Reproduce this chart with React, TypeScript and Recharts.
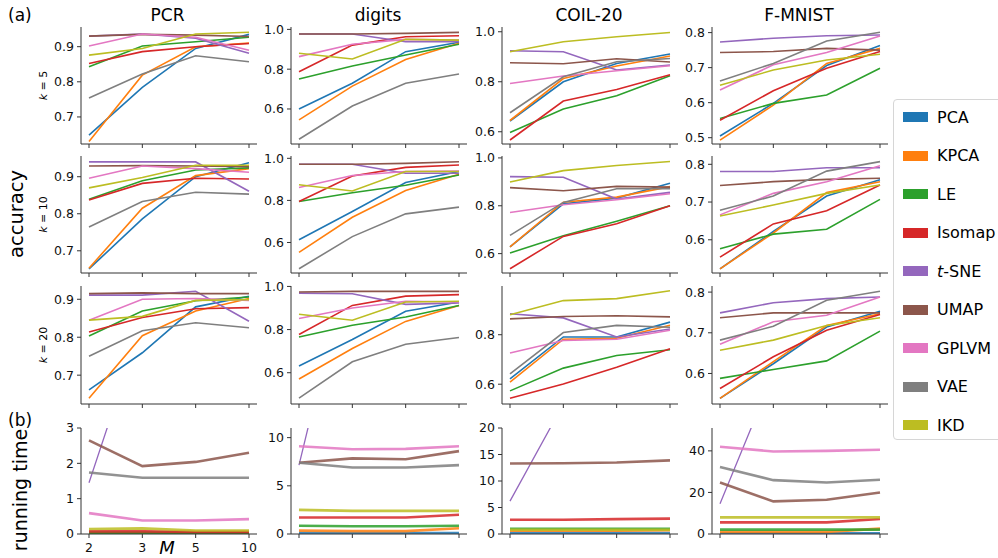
import React from 'react';
import { LineChart, Line, XAxis, YAxis } from 'recharts';

// ---------- categories / labels ----------
const M_LABELS = ['2', '3', '5', '10'];
const METHODS = ['PCA', 'KPCA', 'LE', 'Isomap', 't-SNE', 'UMAP', 'GPLVM', 'VAE', 'IKD'];
const DATASETS = ['PCR', 'digits', 'COIL-20', 'F-MNIST'];
const K_LABELS = ['5', '10', '20'];

// ---------- accuracy, k = 5 (rows: METHODS order, cols: M) ----------
const PCR_K5 = [
  [0.648, 0.784, 0.895, 0.935],
  [0.630, 0.819, 0.900, 0.910],
  [0.843, 0.902, 0.914, 0.927],
  [0.852, 0.886, 0.900, 0.909],
  [0.930, 0.936, 0.924, 0.881],
  [0.930, 0.935, 0.933, 0.929],
  [0.902, 0.936, 0.927, 0.890],
  [0.754, 0.822, 0.874, 0.857],
  [0.876, 0.895, 0.936, 0.941],
];
const DIGITS_K5 = [
  [0.600, 0.729, 0.888, 0.935],
  [0.545, 0.715, 0.849, 0.930],
  [0.751, 0.816, 0.871, 0.925],
  [0.787, 0.921, 0.963, 0.968],
  [0.977, 0.977, 0.938, 0.938],
  [0.977, 0.977, 0.980, 0.985],
  [0.863, 0.925, 0.950, 0.946],
  [0.448, 0.615, 0.729, 0.776],
  [0.880, 0.851, 0.950, 0.946],
];
const COIL_K5 = [
  [0.643, 0.800, 0.873, 0.911],
  [0.645, 0.813, 0.863, 0.903],
  [0.597, 0.691, 0.744, 0.824],
  [0.567, 0.723, 0.769, 0.828],
  [0.924, 0.920, 0.847, 0.867],
  [0.876, 0.872, 0.892, 0.879],
  [0.793, 0.823, 0.844, 0.864],
  [0.676, 0.820, 0.880, 0.893],
  [0.920, 0.960, 0.980, 0.997],
];
const FMNIST_K5 = [
  [0.505, 0.598, 0.706, 0.763],
  [0.493, 0.593, 0.712, 0.755],
  [0.555, 0.598, 0.622, 0.698],
  [0.550, 0.634, 0.698, 0.746],
  [0.773, 0.784, 0.791, 0.793],
  [0.743, 0.746, 0.755, 0.750],
  [0.636, 0.708, 0.743, 0.790],
  [0.662, 0.712, 0.776, 0.801],
  [0.650, 0.693, 0.722, 0.738],
];

// ---------- accuracy, k = 10 ----------
const PCR_K10 = [
  [0.651, 0.786, 0.900, 0.938],
  [0.653, 0.815, 0.903, 0.922],
  [0.839, 0.889, 0.918, 0.924],
  [0.837, 0.882, 0.896, 0.894],
  [0.940, 0.940, 0.940, 0.861],
  [0.929, 0.930, 0.929, 0.927],
  [0.896, 0.929, 0.922, 0.912],
  [0.764, 0.833, 0.858, 0.853],
  [0.870, 0.898, 0.931, 0.931],
];
const DIGITS_K10 = [
  [0.613, 0.747, 0.885, 0.937],
  [0.553, 0.720, 0.847, 0.924],
  [0.795, 0.836, 0.872, 0.921],
  [0.795, 0.916, 0.957, 0.968],
  [0.972, 0.972, 0.929, 0.929],
  [0.972, 0.972, 0.976, 0.984],
  [0.861, 0.918, 0.937, 0.940],
  [0.475, 0.628, 0.736, 0.768],
  [0.874, 0.845, 0.937, 0.937],
];
const COIL_K10 = [
  [0.628, 0.808, 0.832, 0.894],
  [0.628, 0.815, 0.836, 0.880],
  [0.603, 0.675, 0.735, 0.800],
  [0.537, 0.672, 0.725, 0.800],
  [0.922, 0.919, 0.828, 0.856],
  [0.876, 0.863, 0.881, 0.878],
  [0.772, 0.804, 0.825, 0.850],
  [0.676, 0.814, 0.871, 0.871],
  [0.899, 0.947, 0.968, 0.985],
];
const FMNIST_K10 = [
  [0.523, 0.622, 0.716, 0.759],
  [0.523, 0.618, 0.725, 0.754],
  [0.576, 0.615, 0.628, 0.707],
  [0.554, 0.642, 0.677, 0.745],
  [0.781, 0.781, 0.791, 0.791],
  [0.744, 0.754, 0.760, 0.763],
  [0.666, 0.723, 0.754, 0.796],
  [0.678, 0.716, 0.782, 0.807],
  [0.663, 0.692, 0.723, 0.745],
];

// ---------- accuracy, k = 20 ----------
const PCR_K20 = [
  [0.661, 0.759, 0.880, 0.908],
  [0.639, 0.804, 0.869, 0.902],
  [0.803, 0.869, 0.896, 0.906],
  [0.814, 0.852, 0.875, 0.878],
  [0.911, 0.911, 0.921, 0.842],
  [0.915, 0.917, 0.915, 0.915],
  [0.845, 0.900, 0.902, 0.897],
  [0.750, 0.817, 0.838, 0.825],
  [0.845, 0.855, 0.897, 0.899],
];
const DIGITS_K20 = [
  [0.631, 0.754, 0.885, 0.928],
  [0.571, 0.712, 0.838, 0.912],
  [0.766, 0.820, 0.858, 0.912],
  [0.777, 0.912, 0.955, 0.962],
  [0.969, 0.966, 0.917, 0.923],
  [0.974, 0.977, 0.977, 0.977],
  [0.851, 0.900, 0.931, 0.928],
  [0.482, 0.651, 0.732, 0.763],
  [0.871, 0.843, 0.928, 0.931],
];
const COIL_K20 = [
  [0.622, 0.791, 0.791, 0.851],
  [0.608, 0.782, 0.786, 0.838],
  [0.573, 0.665, 0.716, 0.739],
  [0.543, 0.601, 0.669, 0.743],
  [0.885, 0.868, 0.791, 0.823],
  [0.864, 0.874, 0.877, 0.872],
  [0.726, 0.777, 0.782, 0.818],
  [0.642, 0.809, 0.838, 0.830],
  [0.881, 0.938, 0.946, 0.978],
];
const FMNIST_K20 = [
  [0.539, 0.624, 0.714, 0.753],
  [0.539, 0.629, 0.718, 0.747],
  [0.588, 0.610, 0.631, 0.704],
  [0.563, 0.641, 0.706, 0.745],
  [0.749, 0.774, 0.784, 0.788],
  [0.737, 0.749, 0.749, 0.749],
  [0.672, 0.727, 0.743, 0.788],
  [0.682, 0.716, 0.780, 0.802],
  [0.657, 0.682, 0.718, 0.737],
];

// ---------- running time ----------
const TIME_PCR = [
  [0.01, 0.01, 0.01, 0.01],
  [0.02, 0.02, 0.03, 0.03],
  [0.04, 0.04, 0.04, 0.04],
  [0.075, 0.075, 0.06, 0.06],
  [1.45, 6.0, 9.5, 14.0],
  [2.65, 1.92, 2.04, 2.30],
  [0.59, 0.38, 0.38, 0.42],
  [1.74, 1.59, 1.59, 1.59],
  [0.14, 0.16, 0.10, 0.10],
];
const TIME_DIGITS = [
  [0.10, 0.10, 0.10, 0.10],
  [0.35, 0.30, 0.30, 0.60],
  [0.86, 0.80, 0.80, 0.86],
  [1.72, 1.72, 1.72, 2.00],
  [7.15, 30.0, 45.0, 60.0],
  [7.40, 7.85, 7.75, 8.60],
  [9.10, 8.80, 8.83, 9.10],
  [7.40, 6.90, 6.90, 7.15],
  [2.50, 2.40, 2.40, 2.40],
];
const TIME_COIL = [
  [0.2, 0.2, 0.2, 0.2],
  [0.6, 0.6, 0.6, 0.7],
  [1.0, 1.0, 1.0, 1.0],
  [2.7, 2.7, 2.8, 2.9],
  [6.2, 24.5, 38.0, 55.0],
  [13.3, 13.35, 13.5, 13.9],
  [46.0, 44.0, 44.0, 45.0],
  [32.0, 30.0, 30.0, 31.0],
  [0.8, 0.8, 0.8, 0.8],
];
const TIME_FMNIST = [
  [0.3, 0.3, 0.3, 0.3],
  [1.0, 1.0, 1.0, 2.6],
  [2.1, 2.1, 2.1, 2.1],
  [5.6, 5.6, 5.6, 7.2],
  [14.5, 77.0, 110.0, 150.0],
  [24.8, 15.7, 16.5, 20.0],
  [42.0, 39.7, 40.0, 40.5],
  [32.2, 25.9, 24.8, 26.1],
  [8.0, 8.0, 8.0, 8.0],
];

// ---------- axis settings per panel ----------
const Y_DOMAINS = [
  [[0.623, 0.956], [0.424, 1.012], [0.551, 1.019], [0.482, 0.816]],
  [[0.640, 0.956], [0.455, 1.011], [0.519, 1.008], [0.512, 0.822]],
  [[0.624, 0.935], [0.455, 1.002], [0.520, 0.997], [0.525, 0.815]],
  [[0, 3], [0, 11], [0, 20], [0, 51]],
];
const Y_TICKS = [
  [[0.7, 0.8, 0.9], [0.6, 0.8, 1.0], [0.6, 0.8, 1.0], [0.5, 0.6, 0.7, 0.8]],
  [[0.7, 0.8, 0.9], [0.6, 0.8, 1.0], [0.6, 0.8, 1.0], [0.6, 0.7, 0.8]],
  [[0.7, 0.8, 0.9], [0.6, 0.8, 1.0], [0.6, 0.8], [0.6, 0.7, 0.8]],
  [[0, 1, 2, 3], [0, 5, 10], [0, 5, 10, 15, 20], [0, 20, 40]],
];
const GRID = [
  [PCR_K5, DIGITS_K5, COIL_K5, FMNIST_K5],
  [PCR_K10, DIGITS_K10, COIL_K10, FMNIST_K10],
  [PCR_K20, DIGITS_K20, COIL_K20, FMNIST_K20],
  [TIME_PCR, TIME_DIGITS, TIME_COIL, TIME_FMNIST],
];

const COLORS = ['#1f77b4', '#ff7f0e', '#2ca02c', '#d62728', '#9467bd', '#8c564b', '#e377c2', '#7f7f7f', '#bcbd22'];

// ---------- layout ----------
const FONT = 'DejaVu Sans, sans-serif';
const COL_LEFTS = [80.5, 291, 502, 712];
const ROW_TOPS = [27, 156, 286, 428];
const ROW_HEIGHTS = [117, 117, 118, 106];
const PLOT_W = 176;
const AX_W = 45;
const PAD_T = 10;
const PAD_R = 5;
const AX_H = 24;
const SPINE = '#333';

function buildRows(series: number[][]) {
  return M_LABELS.map((_, i) => {
    const row: Record<string, number> = { x: i };
    METHODS.forEach((m, j) => {
      row[m] = series[j][i];
    });
    return row;
  });
}

function Panel({ r, c }: { r: number; c: number }) {
  const data = buildRows(GRID[r][c]);
  const isTime = r === 3;
  const showX = r === 3 && c === 0;
  const w = AX_W + PLOT_W + PAD_R;
  const h = PAD_T + ROW_HEIGHTS[r] + AX_H;
  return (
    <div style={{ position: 'absolute', left: COL_LEFTS[c] - AX_W, top: ROW_TOPS[r] - PAD_T, width: w, height: h }}>
      <LineChart width={w} height={h} data={data} margin={{ top: PAD_T, right: PAD_R, bottom: 0, left: 0 }} style={{ overflow: 'visible' }}>
        <XAxis
          dataKey="x"
          type="number"
          domain={[-0.15, 3.15]}
          ticks={[0, 1, 2, 3]}
          allowDataOverflow
          interval={0}
          height={AX_H}
          tickSize={4}
          tickMargin={5}
          axisLine={{ stroke: SPINE, strokeWidth: 1 }}
          tickLine={{ stroke: SPINE, strokeWidth: 1 }}
          tick={{ fontSize: 12.5, fill: '#111', fontFamily: FONT }}
          tickFormatter={(v: number) => (showX ? M_LABELS[v] : '')}
        />
        <YAxis
          type="number"
          domain={Y_DOMAINS[r][c]}
          ticks={Y_TICKS[r][c]}
          allowDataOverflow
          interval={0}
          width={AX_W}
          tickSize={4}
          tickMargin={3}
          axisLine={{ stroke: SPINE, strokeWidth: 1 }}
          tickLine={{ stroke: SPINE, strokeWidth: 1 }}
          tick={{ fontSize: 12.5, fill: '#111', fontFamily: FONT }}
          tickFormatter={(v: number) => (isTime ? String(v) : v.toFixed(1))}
        />
        {METHODS.map((m, j) => (
          <Line
            key={m}
            dataKey={m}
            type="linear"
            stroke={COLORS[j]}
            strokeWidth={isTime ? (m === 't-SNE' ? 1.3 : 2.6) : 1.6}
            strokeOpacity={isTime && m !== 't-SNE' ? 0.85 : 1}
            dot={false}
            activeDot={false}
            isAnimationActive={false}
          />
        ))}
      </LineChart>
    </div>
  );
}

function Overlay() {
  return (
    <svg width={998} height={558} style={{ position: 'absolute', left: 0, top: 0, pointerEvents: 'none' }} fontFamily={FONT}>
      <text x={8} y={21} fontSize={17} fill="#000">(a)</text>
      <text x={8} y={426} fontSize={17} fill="#000">(b)</text>
      {DATASETS.map((d, c) => (
        <text key={d} x={COL_LEFTS[c] + PLOT_W / 2 - 1} y={21} fontSize={17} textAnchor="middle" fill="#000">{d}</text>
      ))}
      {K_LABELS.map((k, r) => {
        const cy = ROW_TOPS[r] + ROW_HEIGHTS[r] / 2;
        return (
          <text key={k} x={47} y={cy} fontSize={11} textAnchor="middle" fill="#000" transform={`rotate(-90 47 ${cy})`}>
            <tspan fontStyle="italic">k</tspan> = {k}
          </text>
        );
      })}
      <text x={23} y={214} fontSize={19.5} textAnchor="middle" fill="#000" transform="rotate(-90 23 214)">accuracy</text>
      <text x={27} y={490} fontSize={19} textAnchor="middle" fill="#000" transform="rotate(-90 27 490)">running time</text>
      <text x={167} y={554} fontSize={18} fontStyle="italic" textAnchor="middle" fill="#000">M</text>
    </svg>
  );
}

function LegendBox() {
  return (
    <div
      style={{
        position: 'absolute',
        left: 893,
        top: 99,
        width: 120,
        height: 341,
        border: '1px solid #d6d6d6',
        borderRadius: 4,
        background: '#fff',
        fontFamily: FONT,
        boxSizing: 'border-box',
      }}
    >
      {METHODS.map((m, i) => (
        <div key={m} style={{ position: 'absolute', left: 0, top: 17 + 38.5 * i - 12, height: 24, display: 'flex', alignItems: 'center' }}>
          <div style={{ marginLeft: 9, width: 25, height: 10, background: COLORS[i] }} />
          <span style={{ marginLeft: 9, fontSize: 16, color: '#000', whiteSpace: 'nowrap' }}>
            {m === 't-SNE' ? (<><i>t</i>-SNE</>) : m}
          </span>
        </div>
      ))}
    </div>
  );
}

export default function App() {
  return (
    <div style={{ position: 'absolute', left: 0, top: 0, width: 998, height: 558, overflow: 'hidden', background: '#fff' }}>
      {[0, 1, 2, 3].map((r) => [0, 1, 2, 3].map((c) => <Panel key={`${r}-${c}`} r={r} c={c} />))}
      <Overlay />
      <LegendBox />
    </div>
  );
}
